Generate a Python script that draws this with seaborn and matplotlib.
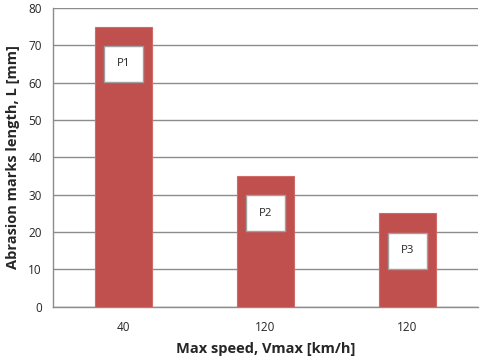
import matplotlib
matplotlib.use("Agg")
import matplotlib.pyplot as plt
import seaborn as sns
import pandas as pd

# data
speeds = ["40", "120", "120"]
lengths = [75, 35, 25]
tags = ["P1", "P2", "P3"]

sns.set_style("white")
plt.rcParams["font.family"] = ["Open Sans", "DejaVu Sans"]

df = pd.DataFrame({"slot": [0, 1, 2], "length": lengths})

fig = plt.figure(figsize=(4.85, 3.61), dpi=100)
ax = fig.add_axes([0.109, 0.150, 0.877, 0.828])

sns.barplot(data=df, x="slot", y="length", color="#C0504D", saturation=1,
            width=0.4, edgecolor="#D06A67", linewidth=0.8, ax=ax, zorder=3)

ax.set_ylim(0, 80)
ax.set_yticks(range(0, 81, 10))
ax.set_xticks(range(len(speeds)))
ax.set_xticklabels(speeds)
ax.yaxis.grid(True, color="#8C8C8C", linewidth=1.0, zorder=0)
ax.set_axisbelow(True)

for s in ["top", "right"]:
    ax.spines[s].set_visible(False)
for s in ["left", "bottom"]:
    ax.spines[s].set_color("#8C8C8C")
    ax.spines[s].set_linewidth(1.0)

ax.tick_params(axis="y", length=4, color="#8C8C8C", labelsize=8.5, pad=4)
ax.tick_params(axis="x", length=0, labelsize=8.5, pad=10)

for i, (v, t) in enumerate(zip(lengths, tags)):
    ax.text(i, v - 10, t, ha="center", va="center", fontsize=8.2, zorder=5,
            bbox=dict(boxstyle="square,pad=1.1", facecolor="white",
                      edgecolor="#A0A0A0", linewidth=1.0))

ax.set_xlabel("Max speed, Vmax [km/h]", fontsize=10.5, fontweight="bold", labelpad=6)
ax.set_ylabel("Abrasion marks length, L [mm]", fontsize=10.5, fontweight="bold", labelpad=6)

fig.savefig("out.png", dpi=100)
plt.close(fig)
